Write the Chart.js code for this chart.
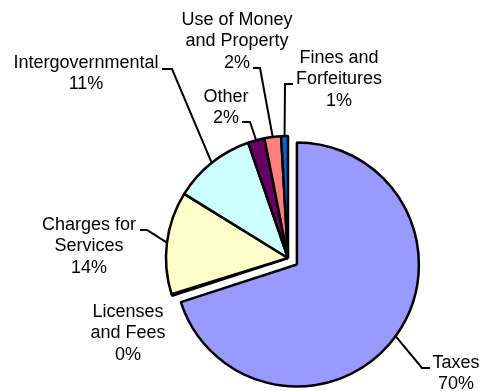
<!DOCTYPE html>
<html>
<head>
<meta charset="utf-8">
<script src="https://cdn.jsdelivr.net/npm/chart.js@4"></script>
<style>
  html, body { margin: 0; padding: 0; background: #fff; }
  canvas { display: block; }
</style>
</head>
<body>
<canvas id="revenueChart" width="482" height="391"></canvas>
<script>
// revenue sources, clockwise from 12 o'clock
const categories = ['Taxes', 'Licenses and Fees', 'Charges for Services', 'Intergovernmental', 'Other', 'Use of Money and Property', 'Fines and Forfeitures'];
const shares = [70.0, 0.2, 13.6, 10.9, 2.2, 2.2, 0.9];
const colors = ['#9999FF', '#993366', '#FFFFCC', '#CCFFFF', '#660066', '#FF8080', '#0066CC'];
// text lines per label (percentage line is appended)
const labelLines = [['Taxes'], ['Licenses', 'and Fees'], ['Charges for', 'Services'], ['Intergovernmental'], ['Other'], ['Use of Money', 'and Property'], ['Fines and', 'Forfeitures']];

// label placement: text centre x, first line y, leader elbow and end (null = no leader)
const labelLayout = [
    { x: 456, y: 363, elbow: [422, 368], end: [430, 368] },
    { x: 128, y: 312, elbow: null, end: null },
    { x: 89, y: 225, elbow: [147, 230], end: [140, 230] },
    { x: 86, y: 63, elbow: [172, 69], end: [162, 69] },
    { x: 226, y: 97, elbow: [250, 122], end: [242, 122] },
    { x: 237, y: 20, elbow: [260, 68], end: [253, 68] },
    { x: 339, y: 58, elbow: [285, 84], end: [293, 84] },
];
const explode = [11, 0, 0, 0, 0, 0, 0];

// pulls a slice out along its middle angle without growing it
const explodePlugin = {
    id: 'explodeSlices',
    afterDatasetsUpdate(chart) {
        const meta = chart.getDatasetMeta(0);
        meta.data.forEach((arc, i) => {
            if (!explode[i]) return;
            const mid = (arc.startAngle + arc.endAngle) / 2;
            arc.x += Math.cos(mid) * explode[i];
            arc.y += Math.sin(mid) * explode[i];
        });
    },
};

// labels with leader lines
const labelPlugin = {
    id: 'sliceLabels',
    afterDatasetsDraw(chart) {
        const ctx = chart.ctx;
        const meta = chart.getDatasetMeta(0);
        const total = shares.reduce((a, b) => a + b, 0);
        ctx.save();
        ctx.strokeStyle = '#000';
        ctx.lineWidth = 2;
        meta.data.forEach((arc, i) => {
            const lay = labelLayout[i];
            if (lay.elbow) {
                const mid = (arc.startAngle + arc.endAngle) / 2;
                ctx.beginPath();
                ctx.moveTo(arc.x + Math.cos(mid) * arc.outerRadius, arc.y + Math.sin(mid) * arc.outerRadius);
                ctx.lineTo(lay.elbow[0], lay.elbow[1]);
                ctx.lineTo(lay.end[0], lay.end[1]);
                ctx.stroke();
            }
            const pct = Math.round(shares[i] / total * 100) + '%';
            const lines = labelLines[i].concat([pct]);
            ctx.fillStyle = '#000';
            ctx.font = '18px "Liberation Sans", Arial, sans-serif';
            ctx.textAlign = 'center';
            ctx.textBaseline = 'middle';
            lines.forEach((t, k) => ctx.fillText(t, lay.x, lay.y + k * 21.5));
        });
        ctx.restore();
    },
};

new Chart(document.getElementById('revenueChart'), {
    type: 'pie',
    data: {
        labels: categories,
        datasets: [{
            data: shares,
            backgroundColor: colors,
            borderColor: '#000',
            borderWidth: 2.5,
        }],
    },
    options: {
        responsive: false,
        animation: false,
        radius: 122,
        layout: { padding: { left: 94, right: 0, top: 125, bottom: 0 } },
        plugins: {
            legend: { display: false },
            tooltip: { enabled: false },
        },
    },
    plugins: [explodePlugin, labelPlugin],
});
</script>
</body>
</html>
